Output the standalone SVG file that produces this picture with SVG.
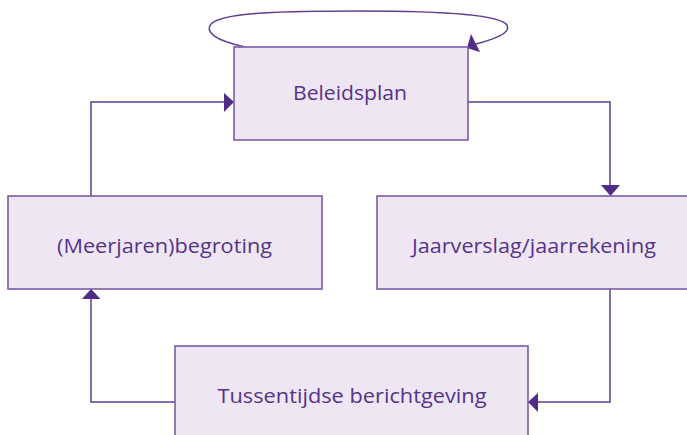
<svg xmlns="http://www.w3.org/2000/svg" width="687" height="435" viewBox="0 0 687 435">
<defs>
<style>
.box{fill:#efe6f3;stroke:#7a5ca6;stroke-width:1.6}
.lbl{font-family:"Open Sans","Noto Sans",sans-serif;font-size:20px;fill:#54338a;text-anchor:middle}
.ln{fill:none;stroke:#5e3f93;stroke-width:1.5}
.ah{fill:#4f2c85}
</style>
</defs>
<rect width="687" height="435" fill="#ffffff"/>
<g id="connectors">
<path class="ln" d="M245,47 C214,40 205,32 211,24 C222,12 290,11 360,11 C440,11 500,15 507,25 C511,33 495,39 476,44"/>
<polygon class="ah" points="467,48 471,34 480,52"/>
<path class="ln" d="M468,102 H610 V186"/>
<polygon class="ah" points="601,185 620,185 610.5,196"/>
<path class="ln" d="M610,289 V402 H538"/>
<polygon class="ah" points="528,402 538,393 538,412"/>
<path class="ln" d="M175,402 H91 V299"/>
<polygon class="ah" points="91,289 82,299 100.5,299"/>
<path class="ln" d="M91,196 V102 H224"/>
<polygon class="ah" points="234,102 224,93 224,112"/>
</g>
<g id="beleidsplan">
<rect class="box" x="234" y="47" width="234" height="93"/>
<text class="lbl" x="350" y="100" textLength="114" lengthAdjust="spacingAndGlyphs">Beleidsplan</text>
</g>
<g id="begroting">
<rect class="box" x="8" y="196" width="314" height="93"/>
<text class="lbl" x="164.5" y="253" textLength="215" lengthAdjust="spacingAndGlyphs">(Meerjaren)begroting</text>
</g>
<g id="jaarverslag">
<rect class="box" x="377" y="196" width="312" height="93"/>
<text class="lbl" x="534" y="253" textLength="244" lengthAdjust="spacingAndGlyphs">Jaarverslag/jaarrekening</text>
</g>
<g id="tussentijdse">
<rect class="box" x="175" y="346" width="353" height="95"/>
<text class="lbl" x="352" y="403" textLength="269" lengthAdjust="spacingAndGlyphs">Tussentijdse berichtgeving</text>
</g>
</svg>
